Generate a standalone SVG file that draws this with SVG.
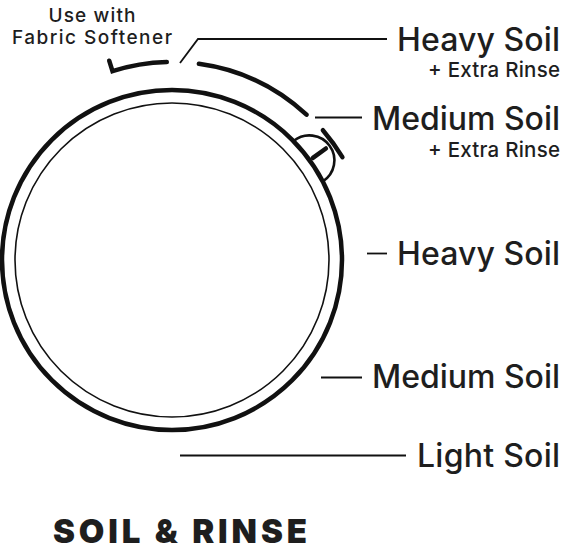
<svg xmlns="http://www.w3.org/2000/svg" width="580" height="556" viewBox="0 0 580 556">
<style>
.lbl{font-family:Inter,"Liberation Sans",sans-serif;fill:#1e1e1e;font-weight:500}
.big{font-size:32px}
.sub{font-size:20.5px}
.small{font-size:19px}
.title{font-family:Inter,"Liberation Sans",sans-serif;font-weight:900;font-size:33px;fill:#1e1e1e}
.thick{fill:none;stroke:#111;stroke-width:4.5;stroke-linecap:round}
.lead{fill:none;stroke:#111;stroke-width:1.8}
</style>
<rect width="580" height="556" fill="#fff"/>
<g id="dial">
<circle cx="172" cy="260" r="170" fill="none" stroke="#111" stroke-width="4.5"/>
<circle cx="172" cy="260" r="157" fill="none" stroke="#111" stroke-width="1.6"/>
<path d="M293.5 141.1 A25 25 0 1 1 322.8 181.5" fill="none" stroke="#111" stroke-width="2.6"/>
<line x1="312.9" y1="157.9" x2="325.9" y2="148.5" class="thick"/>
</g>
<g id="arcs">
<path class="thick" d="M109.2 60.7 L112.5 71.2 A198 198 0 0 1 166.8 62.1"/>
<path class="thick" d="M198.9 63.8 A198 198 0 0 1 306.5 114.7"/>
<path class="thick" d="M322.9 130.2 A199 199 0 0 1 342.4 157.2"/>
</g>
<g id="connectors">
<polyline class="lead" points="180,63 198,39 387,39"/>
<line class="lead" x1="315" y1="117.5" x2="362" y2="117.5"/>
<line class="lead" x1="367" y1="253.5" x2="387" y2="253.5"/>
<line class="lead" x1="321" y1="377.5" x2="362" y2="377.5"/>
<line class="lead" x1="180" y1="455.5" x2="406" y2="455.5"/>
</g>
<g id="label-softener">
<text class="lbl small" x="92" y="22" text-anchor="middle" textLength="87">Use with</text>
<text class="lbl small" x="92" y="44" text-anchor="middle" textLength="160">Fabric Softener</text>
</g>
<g id="label-heavy-extra">
<text class="lbl big" x="560" y="51" text-anchor="end" textLength="163">Heavy Soil</text>
<text class="lbl sub" x="560" y="77" text-anchor="end" textLength="132">+ Extra Rinse</text>
</g>
<g id="label-medium-extra">
<text class="lbl big" x="560" y="130" text-anchor="end" textLength="188">Medium Soil</text>
<text class="lbl sub" x="560" y="157" text-anchor="end" textLength="132">+ Extra Rinse</text>
</g>
<g id="label-heavy">
<text class="lbl big" x="560" y="265" text-anchor="end" textLength="163">Heavy Soil</text>
</g>
<g id="label-medium">
<text class="lbl big" x="560" y="388" text-anchor="end" textLength="188">Medium Soil</text>
</g>
<g id="label-light">
<text class="lbl big" x="417" y="467" textLength="143">Light Soil</text>
</g>
<g id="title">
<text class="title" x="53" y="543" textLength="254">SOIL &amp; RINSE</text>
</g>
</svg>
